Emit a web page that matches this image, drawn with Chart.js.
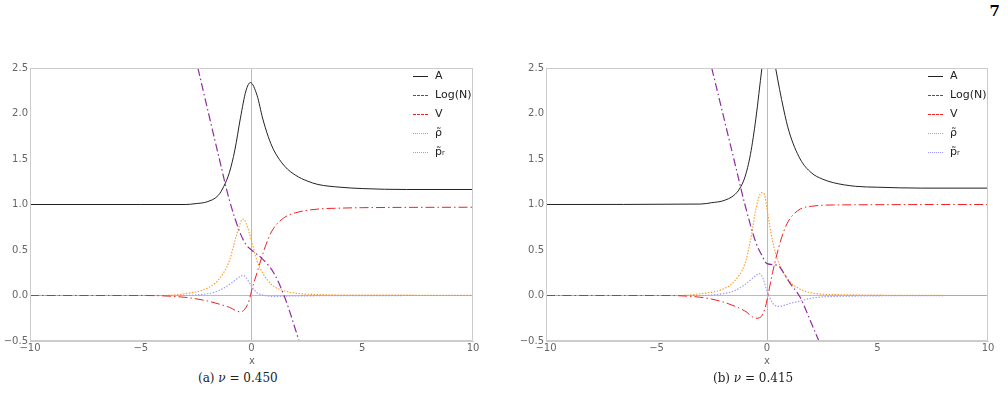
<!DOCTYPE html>
<html><head><meta charset="utf-8">
<script src="https://cdn.jsdelivr.net/npm/chart.js"></script>
<style>
body{margin:0;background:#fff;width:1008px;height:400px;position:relative;overflow:hidden;font-family:"DejaVu Sans",sans-serif}
.c{position:absolute;top:60px;width:490px;height:303px}
.lg{position:absolute;font-size:11px;color:#222}
.row{position:absolute;height:14px;white-space:nowrap;line-height:14px}
.row span.l{display:inline-block;width:15px;height:0;vertical-align:middle;margin-right:7px;border-top-width:1px}
.cap{position:absolute;top:371px;font-family:"DejaVu Serif",serif;font-size:12px;color:#222}
.xl{position:absolute;top:355px;font-size:10px;color:#666}
</style></head><body>
<div style="position:absolute;right:8px;top:2px;font-family:'DejaVu Serif',serif;font-weight:bold;font-size:15px">7</div>
<div class="c" style="left:0"><canvas id="a"></canvas></div>
<div class="c" style="left:516px"><canvas id="b"></canvas></div>
<div class="xl" style="left:249px">x</div>
<div class="xl" style="left:764px">x</div>
<div class="cap" style="left:198px">(a) <i>ν</i> = 0.450</div>
<div class="cap" style="left:713px">(b) <i>ν</i> = 0.415</div>
<div id="la" class="lg" style="left:413px;top:69px"></div>
<div id="lb" class="lg" style="left:928px;top:69px"></div>
<script>
// ---- data chart (a) nu=0.450 ----
const aA_x=[-10,-5,-3,-2.5,-2,-1.5,-1.25,-1,-0.75,-0.5,-0.25,-0.05,0.25,0.5,0.75,1,1.5,2,2.5,3,4,5,7,10];
const aA_y=[1,1,1,1.01,1.03,1.1,1.2,1.35,1.6,1.95,2.25,2.34,2.2,1.95,1.75,1.6,1.42,1.32,1.26,1.22,1.19,1.175,1.165,1.165];
const aN_x=[-2.42,-1.5,-1,-0.5,-0.25,0,0.5,1,1.5,2.15];
const aN_y=[2.5,1.55,1.05,0.68,0.56,0.5,0.4,0.25,-0.02,-0.5];
const aV_x=[-10,-5,-3,-2,-1,-0.5,-0.3,-0.1,0,0.25,0.5,0.75,1,1.5,2,3,4,5,10];
const aV_y=[0,0,-0.02,-0.06,-0.13,-0.18,-0.15,-0.05,0.05,0.25,0.45,0.62,0.74,0.86,0.91,0.95,0.96,0.965,0.97];
const aR_x=[-10,-4,-3,-2,-1.5,-1,-0.75,-0.5,-0.4,-0.25,0,0.25,0.5,0.75,1,1.5,2,3,5,10];
const aR_y=[0,0,0.02,0.08,0.17,0.38,0.6,0.8,0.84,0.8,0.6,0.38,0.25,0.16,0.1,0.05,0.025,0.01,0.005,0.003];
const aP_x=[-10,-3,-2,-1.5,-1,-0.5,-0.4,-0.25,0,0.25,0.5,1,2,10];
const aP_y=[0,0,0.02,0.05,0.12,0.21,0.22,0.2,0.1,0.03,0.005,-0.01,-0.005,0];
// ---- data chart (b) nu=0.415 ----
const bA_x=[-10,-3,-2.5,-2,-1.5,-1.25,-1,-0.75,-0.5,-0.23,0.05,0.39,0.75,1,1.5,2,2.5,3,4,5,7,10];
const bA_y=[1,1.005,1.02,1.04,1.1,1.17,1.3,1.55,1.95,2.5,3.0,2.5,2.05,1.8,1.5,1.35,1.28,1.24,1.2,1.19,1.18,1.18];
const bN_x=[-2.5,-1.5,-1,-0.5,-0.25,0,0.5,0.75,1,1.5,2,2.35];
const bN_y=[2.5,1.5,1.0,0.58,0.45,0.35,0.33,0.25,0.15,-0.02,-0.3,-0.5];
const bV_x=[-10,-5,-3,-2,-1,-0.5,-0.3,-0.1,0,0.25,0.5,0.75,1,1.5,2,3,10];
const bV_y=[0,0,-0.02,-0.07,-0.17,-0.25,-0.24,-0.15,-0.05,0.25,0.5,0.7,0.83,0.95,0.98,0.995,1.0];
const bR_x=[-10,-4,-3,-2,-1.5,-1,-0.75,-0.5,-0.25,-0.1,0,0.25,0.5,0.75,1,1.5,2,3,10];
const bR_y=[0,0,0.02,0.07,0.15,0.35,0.6,0.95,1.13,1.1,0.95,0.6,0.38,0.25,0.16,0.07,0.03,0.01,0];
const bP_x=[-10,-3,-2,-1.5,-1,-0.5,-0.35,-0.2,0,0.25,0.5,0.75,1,1.5,2,3,10];
const bP_y=[0,0,0.02,0.05,0.12,0.22,0.24,0.2,0.05,-0.08,-0.12,-0.11,-0.09,-0.06,-0.03,-0.01,0];
const xTicks=[-10,-5,0,5,10];
const yTicks=[-0.5,0,0.5,1,1.5,2,2.5];
const labels=["A","Log(N)","V","ρ̃","p̃ᵣ"];

const styles=[
 {c:'#222222',d:[],w:1,b:'solid'},
 {c:'#8e2d9e',d:[8,3,1.5,3],w:1.2,b:'dashed'},
 {c:'#ee2222',d:[9,3,1.5,3],w:1,b:'dashed'},
 {c:'#ff9922',d:[1.5,1.5],w:1.1,b:'dotted'},
 {c:'#9999ff',d:[1.5,1.5],w:1.1,b:'dotted'}
];
const frame={id:'frame',afterDraw(ch){const a=ch.chartArea,x=ch.ctx;x.save();x.strokeStyle='#ccc';x.lineWidth=1;x.setLineDash([]);x.strokeRect(a.left+0.5,a.top+0.5,a.right-a.left-1,a.bottom-a.top-1);x.restore();}};
function pts(xs,ys){return xs.map((x,i)=>({x,y:ys[i]}));}
function make(id,sets,padR){
 new Chart(document.getElementById(id),{type:'line',plugins:[frame],
  data:{datasets:sets.map((s,i)=>({label:labels[i],data:pts(s[0],s[1]),borderColor:styles[i].c,borderDash:styles[i].d,borderWidth:styles[i].w,pointRadius:0,cubicInterpolationMode:'monotone',fill:false}))},
  options:{responsive:false,animation:false,devicePixelRatio:1,layout:{padding:{top:8,right:padR,left:0,bottom:0}},
   plugins:{legend:{display:false},tooltip:{enabled:false}},
   scales:{
    x:{type:'linear',min:-10,max:10,afterFit:s=>{s.height=22},afterBuildTicks:s=>{s.ticks=xTicks.map(v=>({value:v}))},
      ticks:{color:'#666',font:{size:10,family:'DejaVu Sans'},padding:1,callback:v=>v<0?'−'+(-v):v,maxRotation:0},
      border:{color:'#ccc'},grid:{drawTicks:false,color:c=>c.tick&&c.tick.value===0?'#bbb':'rgba(0,0,0,0)'}},
    y:{min:-0.5,max:2.5,afterFit:s=>{s.width=30},afterBuildTicks:s=>{s.ticks=yTicks.map(v=>({value:v}))},
      ticks:{color:'#666',font:{size:10,family:'DejaVu Sans'},padding:2,callback:v=>(v<0?'−':'')+Math.abs(v).toFixed(1)},
      border:{color:'#ccc'},grid:{drawTicks:false,color:c=>c.tick&&c.tick.value===0?'#bbb':'rgba(0,0,0,0)'}}
   }}});
}
function canv(id){const c=document.getElementById(id);c.width=490;c.height=303;c.style.width='490px';c.style.height='303px';}
canv('a');canv('b');
make('a',[[aA_x,aA_y],[aN_x,aN_y],[aV_x,aV_y],[aR_x,aR_y],[aP_x,aP_y]],17);
make('b',[[bA_x,bA_y],[bN_x,bN_y],[bV_x,bV_y],[bR_x,bR_y],[bP_x,bP_y]],18);
function legend(id){
 const el=document.getElementById(id);
 labels.forEach((t,i)=>{
  const r=document.createElement('div');r.className='row';r.style.top=(i*19)+'px';
  const sp=document.createElement('span');sp.className='l';
  sp.style.borderTopStyle=styles[i].b;sp.style.borderTopColor=styles[i].c;
  r.appendChild(sp);r.appendChild(document.createTextNode(t));
  el.appendChild(r);
 });
}
legend('la');legend('lb');
</script></body></html>
